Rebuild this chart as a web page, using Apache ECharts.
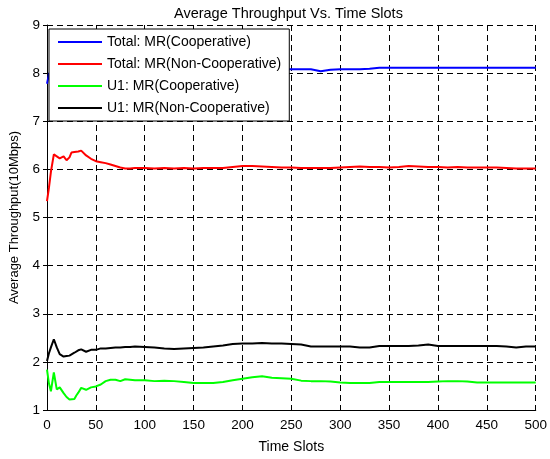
<!DOCTYPE html>
<html>
<head>
<meta charset="utf-8">
<script src="https://cdn.jsdelivr.net/npm/echarts@6/dist/echarts.min.js"></script>
<style>
  html, body { margin: 0; padding: 0; background: #fff; }
  #chart { width: 550px; height: 459px; }
</style>
</head>
<body>
<div id="chart"></div>
<script>
// time slots shared by every series
var slots = [0, 2, 4, 7, 10, 13, 17, 20, 23, 25, 28, 30, 32, 35, 40, 45, 50, 55, 60, 65,
    70, 75, 80, 85, 90, 100, 110, 120, 130, 140, 150, 160, 170, 180, 190, 200, 210, 220, 230, 240,
    250, 260, 270, 280, 290, 300, 310, 320, 330, 340, 350, 360, 370, 380, 390, 400, 410, 420, 430, 440,
    450, 460, 470, 480, 490, 500];

var totalCoop = [7.78, 7.98, 8.05, 8.07, 8.05, 8.06, 8.07, 8.06, 8.07, 8.07, 8.07, 8.07, 8.08, 8.07, 8.07, 8.07, 8.07, 8.07, 8.07, 8.07,
    8.07, 8.07, 8.07, 8.07, 8.07, 8.07, 8.07, 8.07, 8.07, 8.07, 8.07, 8.07, 8.07, 8.07, 8.08, 8.08, 8.08, 8.08, 8.08, 8.08,
    8.08, 8.08, 8.08, 8.04, 8.07, 8.08, 8.08, 8.08, 8.09, 8.11, 8.11, 8.11, 8.11, 8.11, 8.11, 8.11, 8.11, 8.11, 8.11, 8.11,
    8.11, 8.11, 8.11, 8.11, 8.11, 8.11];

var totalNonCoop = [5.34, 5.62, 5.95, 6.31, 6.27, 6.23, 6.27, 6.19, 6.25, 6.35, 6.36, 6.37, 6.37, 6.39, 6.29, 6.22, 6.17, 6.15, 6.13, 6.10,
    6.07, 6.04, 6.02, 6.02, 6.03, 6.03, 6.02, 6.03, 6.02, 6.03, 6.02, 6.03, 6.03, 6.03, 6.05, 6.07, 6.07, 6.06, 6.05, 6.04,
    6.04, 6.03, 6.03, 6.03, 6.03, 6.04, 6.05, 6.06, 6.05, 6.05, 6.04, 6.05, 6.07, 6.06, 6.05, 6.05, 6.04, 6.05, 6.04, 6.04,
    6.04, 6.04, 6.03, 6.02, 6.02, 6.02];

var u1Coop = [1.84, 1.55, 1.39, 1.78, 1.43, 1.47, 1.35, 1.27, 1.22, 1.19, 1.23, 1.30, 1.36, 1.46, 1.42, 1.47, 1.49, 1.53, 1.60, 1.63,
    1.63, 1.60, 1.64, 1.63, 1.62, 1.62, 1.60, 1.61, 1.60, 1.58, 1.56, 1.56, 1.56, 1.58, 1.62, 1.65, 1.68, 1.70, 1.67, 1.66,
    1.65, 1.61, 1.60, 1.60, 1.59, 1.57, 1.56, 1.56, 1.56, 1.58, 1.58, 1.58, 1.58, 1.58, 1.58, 1.59, 1.60, 1.60, 1.59, 1.57,
    1.57, 1.57, 1.57, 1.57, 1.57, 1.57];

var u1NonCoop = [2.02, 2.18, 2.30, 2.47, 2.30, 2.16, 2.11, 2.12, 2.13, 2.15, 2.19, 2.21, 2.24, 2.26, 2.21, 2.25, 2.25, 2.28, 2.28, 2.29,
    2.30, 2.30, 2.31, 2.31, 2.32, 2.31, 2.30, 2.28, 2.27, 2.28, 2.29, 2.30, 2.32, 2.34, 2.37, 2.38, 2.38, 2.39, 2.38, 2.38,
    2.37, 2.36, 2.32, 2.32, 2.32, 2.32, 2.32, 2.30, 2.30, 2.33, 2.33, 2.33, 2.33, 2.34, 2.36, 2.33, 2.33, 2.33, 2.33, 2.33,
    2.33, 2.33, 2.32, 2.30, 2.32, 2.32];

var seriesNames = ['Total: MR(Cooperative)', 'Total: MR(Non-Cooperative)', 'U1: MR(Cooperative)', 'U1: MR(Non-Cooperative)'];
var seriesColors = ['#0000ff', '#ff0000', '#00ff00', '#000000'];
var seriesValues = [totalCoop, totalNonCoop, u1Coop, u1NonCoop];

function pairs(vals) {
    var out = [];
    for (var i = 0; i < slots.length; i++) {
        out.push([slots[i], vals[i]]);
    }
    return out;
}

var series = [];
for (var k = 0; k < seriesNames.length; k++) {
    series.push({
        name: seriesNames[k],
        type: 'line',
        xAxisIndex: 0,
        yAxisIndex: 0,
        symbol: 'none',
        showSymbol: false,
        color: seriesColors[k],
        lineStyle: { width: 2, color: seriesColors[k] },
        data: pairs(seriesValues[k])
    });
}

var font = 'Liberation Sans, Arial, sans-serif';
var gridDash = { show: true, lineStyle: { color: '#000', width: 1, type: [6, 4] } };

var myChart = echarts.init(document.getElementById('chart'));
var option = {
    animation: false,
    backgroundColor: '#fff',
    textStyle: { fontFamily: font, color: '#000' },
    title: {
        text: 'Average Throughput Vs. Time Slots',
        left: 169,
        top: 1,
        textStyle: { fontFamily: font, fontSize: 14.5, fontWeight: 'normal', color: '#000' }
    },
    legend: {
        orient: 'vertical',
        left: 49,
        top: 29,
        padding: [5, 8, 5, 9],
        itemWidth: 44,
        itemHeight: 2,
        itemGap: 6,
        icon: 'rect',
        backgroundColor: '#fff',
        borderColor: '#000',
        borderWidth: 1,
        borderRadius: 0,
        textStyle: { fontFamily: font, fontSize: 14, lineHeight: 16, color: '#000' },
        data: seriesNames
    },
    grid: { left: 45, right: 12, top: 25, bottom: 45 },
    xAxis: [{
        type: 'value',
        min: 0,
        max: 500,
        interval: 50,
        name: 'Time Slots',
        nameLocation: 'middle',
        nameGap: 30,
        nameTextStyle: { fontFamily: font, fontSize: 14, color: '#000' },
        axisLine: { show: true, lineStyle: { color: '#000', width: 1 } },
        axisTick: { show: true, inside: true, length: 4, lineStyle: { color: '#000' } },
        axisLabel: { fontFamily: font, fontSize: 13.5, color: '#000', margin: 8 },
        splitLine: gridDash
    }, {
        type: 'value',
        position: 'top',
        min: 0,
        max: 500,
        interval: 50,
        axisLine: { show: false },
        axisTick: { show: true, inside: true, length: 4, lineStyle: { color: '#000' } },
        axisLabel: { show: false },
        splitLine: { show: false }
    }],
    yAxis: [{
        type: 'value',
        min: 1,
        max: 9,
        interval: 1,
        name: 'Average Throughput(10Mbps)',
        nameLocation: 'middle',
        nameGap: 26,
        nameTextStyle: { fontFamily: font, fontSize: 13, color: '#000' },
        axisLine: { show: true, lineStyle: { color: '#000', width: 1 } },
        axisTick: { show: true, inside: true, length: 4, lineStyle: { color: '#000' } },
        axisLabel: { fontFamily: font, fontSize: 13.5, color: '#000', margin: 7 },
        splitLine: gridDash
    }, {
        type: 'value',
        position: 'right',
        min: 1,
        max: 9,
        interval: 1,
        axisLine: { show: false },
        axisTick: { show: true, inside: true, length: 4, lineStyle: { color: '#000' } },
        axisLabel: { show: false },
        splitLine: { show: false }
    }],
    series: series
};
myChart.setOption(option);
</script>
</body>
</html>
